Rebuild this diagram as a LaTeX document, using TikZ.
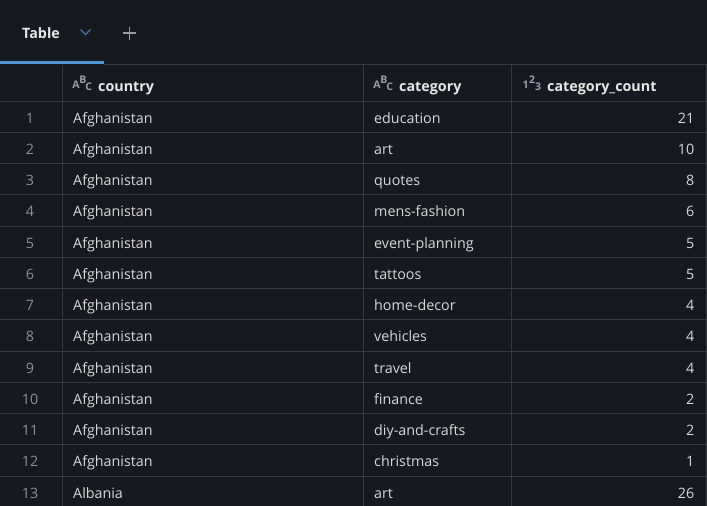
\documentclass[tikz,border=0pt]{standalone}
\usepackage{fontspec}
\setmainfont{Open Sans}
\usepackage{xcolor}
\usepackage{tikz}
\definecolor{bgcol}{HTML}{16191F}
\definecolor{gridcol}{HTML}{363940}
\definecolor{celltext}{HTML}{D8D8D8}
\definecolor{numtext}{HTML}{8C9098}
\definecolor{headtext}{HTML}{E6E6E6}
\definecolor{iconcol}{HTML}{9A9EA6}
\definecolor{tabblue}{HTML}{4F95D6}
\definecolor{chevblue}{HTML}{4A72AE}
\definecolor{pluscol}{HTML}{9C9C9C}
\tikzset{cell node/.style={anchor=base west,inner sep=0pt,text=celltext,font=\fontsize{14.3}{16}\selectfont},
         num node/.style={anchor=base,inner sep=0pt,text=numtext,font=\fontsize{14.3}{16}\selectfont},
         count node/.style={anchor=base east,inner sep=0pt,text=celltext,font=\fontsize{14.3}{16}\selectfont},
         head node/.style={anchor=base west,inner sep=0pt,text=headtext,font=\fontsize{14.3}{16}\selectfont\bfseries},
         icon node/.style={anchor=base,inner sep=0pt,text=iconcol,font=\fontsize{10.5}{11}\selectfont\bfseries},
         grid line/.style={gridcol,line width=1pt},
            }
\begin{document}
\begin{tikzpicture}[x=1pt,y=-1pt]
				\fill[bgcol] (0,0) rectangle (707,506);
				\useasboundingbox (0,0) rectangle (707,506);
				
				% tab bar
				\node[head node] (tab) at (22,38.3) {Table};
				\draw[chevblue,line width=1.3pt] (80.5,29.5) -- (85.5,34.5) -- (90.5,29.5);
				\draw[pluscol,line width=1.2pt] (129.7,26.5) -- (129.7,39.5) (123.2,33) -- (136.2,33);
				\fill[tabblue] (0,61) rectangle (104,64);
				
				% grid
				\draw[grid line] (104,64.5) -- (707,64.5);
				\foreach \i in {0,...,12}
					\draw[grid line] (0,101+31.25*\i) -- (707,101+31.25*\i);
				\foreach \x in {62.5,363.5,511.5,706}
					\draw[grid line] (\x,64.5) -- (\x,506);
				
				% header
				\node[icon node] (A1) at (76,88.7) {A};
				\node[icon node] (B1) at (83,83) {B};
				\node[icon node] (C1) at (88.8,90.7) {C};
				\node[head node] (country) at (98,91.5) {country};
				\node[icon node] (A2) at (377,88.7) {A};
				\node[icon node] (B2) at (384,83) {B};
				\node[icon node] (C2) at (389.8,90.7) {C};
				\node[head node] (category) at (399,91.5) {category};
				\node[icon node] (n1) at (525.5,88.7) {1};
				\node[icon node] (n2) at (532,83) {2};
				\node[icon node] (n3) at (538,90.7) {3};
				\node[head node] (count) at (547,91.5) {category\_count};
				
				% rows
				\foreach \i/\land/\cat/\cnt in {1/Afghanistan/education/21,2/Afghanistan/art/10,3/Afghanistan/quotes/8,
					4/Afghanistan/mens-fashion/6,5/Afghanistan/event-planning/5,6/Afghanistan/tattoos/5,
					7/Afghanistan/home-decor/4,8/Afghanistan/vehicles/4,9/Afghanistan/travel/4,
					10/Afghanistan/finance/2,11/Afghanistan/diy-and-crafts/2,12/Afghanistan/christmas/1,
					13/Albania/art/26}{
					\node[num node] (r\i) at (30,91.9+31.25*\i) {\i};
					\node[cell node] (land\i) at (73,91.9+31.25*\i) {\land};
					\node[cell node] (cat\i) at (374,91.9+31.25*\i) {\cat};
					\node[count node] (cnt\i) at (694.5,91.9+31.25*\i) {\cnt};
				}
			\end{tikzpicture}
\end{document}
